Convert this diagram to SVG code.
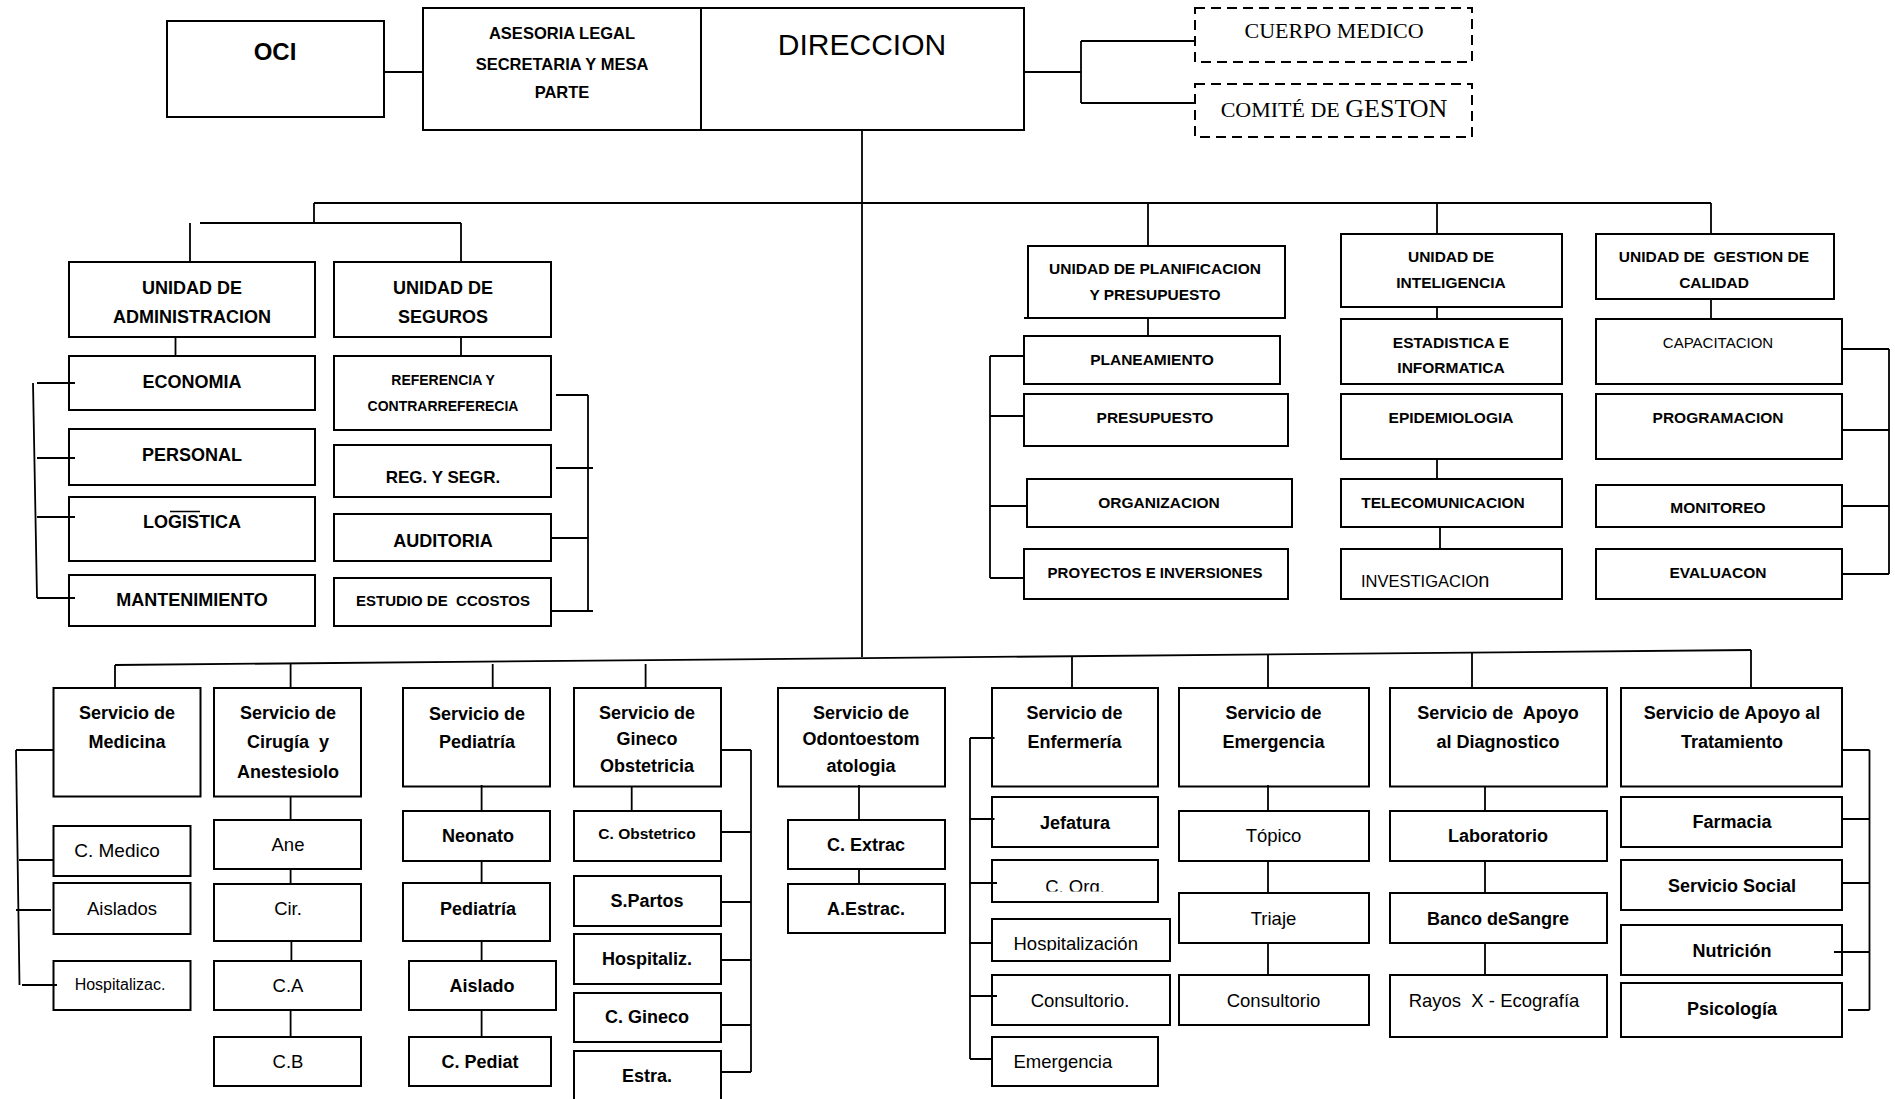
<svg xmlns="http://www.w3.org/2000/svg" width="1895" height="1099" viewBox="0 0 1895 1099">
<defs>
<style>
.box{fill:#fff;stroke:#000;stroke-width:2}
.dash{fill:#fff;stroke:#000;stroke-width:2;stroke-dasharray:10 6}
.ln{fill:none;stroke:#000;stroke-width:1.8}
text{font-family:"Liberation Sans",Arial,sans-serif;fill:#000;text-anchor:middle}
.b{font-weight:bold}
.pre{white-space:pre}
.sr{font-family:"Liberation Serif","Times New Roman",serif}
.u18{font-size:18px}
.u15{font-size:15.5px}
.n18{font-size:18.5px}
.st{text-anchor:start}
</style>
<clipPath id="clipOrg"><rect x="990" y="858" width="170" height="33.5"/></clipPath>
<clipPath id="clipHosp"><rect x="990" y="917" width="182" height="34"/></clipPath>
</defs>
<rect width="1895" height="1099" fill="#fff"/>

<!-- Top row -->
<g id="oci"><rect class="box" x="167" y="21" width="217" height="96"/><text class="b" x="275" y="60" font-size="24">OCI</text></g>
<g id="asesoria"><rect class="box" x="423" y="8" width="278" height="122"/>
<text class="b" x="562" y="39" font-size="16.5">ASESORIA LEGAL</text>
<text class="b" x="562" y="70" font-size="16.5">SECRETARIA Y MESA</text>
<text class="b" x="562" y="98" font-size="16.5">PARTE</text></g>
<g id="direccion"><rect class="box" x="701" y="8" width="323" height="122"/><text x="862" y="55" font-size="30">DIRECCION</text></g>
<g id="cuerpo-medico"><rect class="dash" x="1195" y="8" width="277" height="54"/><text class="sr" x="1334" y="38" font-size="22">CUERPO MEDICO</text></g>
<g id="comite-gestion"><rect class="dash" x="1195" y="84" width="277" height="53"/><text class="sr pre" x="1334" y="117" font-size="22">COMITÉ DE <tspan font-size="26">GESTON</tspan></text></g>

<!-- Administracion -->
<g id="u-admin"><rect class="box" x="69" y="262" width="246" height="75"/><text class="b u18" x="192" y="294">UNIDAD DE</text><text class="b u18" x="192" y="323">ADMINISTRACION</text></g>
<g id="economia"><rect class="box" x="69" y="356" width="246" height="54"/><text class="b u18" x="192" y="388">ECONOMIA</text></g>
<g id="personal"><rect class="box" x="69" y="429" width="246" height="56"/><text class="b u18" x="192" y="461">PERSONAL</text></g>
<g id="logistica"><rect class="box" x="69" y="497" width="246" height="64"/><text class="b u18" x="192" y="528">LOGISTICA</text><line x1="170" y1="511.5" x2="200" y2="511.5" stroke="#000" stroke-width="1.5"/></g>
<g id="mantenimiento"><rect class="box" x="69" y="575" width="246" height="51"/><text class="b u18" x="192" y="606">MANTENIMIENTO</text></g>

<!-- Seguros -->
<g id="u-seguros"><rect class="box" x="334" y="262" width="217" height="75"/><text class="b u18" x="443" y="294">UNIDAD DE</text><text class="b u18" x="443" y="323">SEGUROS</text></g>
<g id="referencia"><rect class="box" x="334" y="356" width="217" height="74"/><text class="b" x="443" y="385" font-size="14">REFERENCIA Y</text><text class="b" x="443" y="411" font-size="14">CONTRARREFERECIA</text></g>
<g id="reg-segr"><rect class="box" x="334" y="445" width="217" height="52"/><text class="b" x="443" y="483" font-size="17">REG. Y SEGR.</text></g>
<g id="auditoria"><rect class="box" x="334" y="514" width="217" height="47"/><text class="b u18" x="443" y="547">AUDITORIA</text></g>
<g id="estudio-costos"><rect class="box" x="334" y="578" width="217" height="48"/><text class="b pre" x="443" y="606" font-size="15">ESTUDIO DE  CCOSTOS</text></g>

<!-- Planificacion -->
<g id="u-planificacion"><rect class="box" x="1028" y="246" width="257" height="72"/><text class="b u15" x="1155" y="274">UNIDAD DE PLANIFICACION</text><text class="b u15" x="1155" y="300">Y PRESUPUESTO</text></g>
<g id="planeamiento"><rect class="box" x="1024" y="336" width="256" height="48"/><text class="b u15" x="1152" y="365">PLANEAMIENTO</text></g>
<g id="presupuesto"><rect class="box" x="1024" y="394" width="264" height="52"/><text class="b u15" x="1155" y="423">PRESUPUESTO</text></g>
<g id="organizacion"><rect class="box" x="1027" y="479" width="265" height="48"/><text class="b u15" x="1159" y="508">ORGANIZACION</text></g>
<g id="proyectos"><rect class="box" x="1024" y="549" width="264" height="50"/><text class="b" x="1155" y="578" font-size="15">PROYECTOS E INVERSIONES</text></g>

<!-- Inteligencia -->
<g id="u-inteligencia"><rect class="box" x="1341" y="234" width="221" height="73"/><text class="b u15" x="1451" y="262">UNIDAD DE</text><text class="b u15" x="1451" y="288">INTELIGENCIA</text></g>
<g id="estadistica"><rect class="box" x="1341" y="319" width="221" height="65"/><text class="b u15" x="1451" y="348">ESTADISTICA E</text><text class="b u15" x="1451" y="373">INFORMATICA</text></g>
<g id="epidemiologia"><rect class="box" x="1341" y="394" width="221" height="65"/><text class="b u15" x="1451" y="423">EPIDEMIOLOGIA</text></g>
<g id="telecomunicacion"><rect class="box" x="1341" y="479" width="221" height="48"/><text class="b u15" x="1443" y="508">TELECOMUNICACION</text></g>
<g id="investigacion"><rect class="box" x="1341" y="549" width="221" height="50"/><text class="st" x="1361" y="587" font-size="16.5">INVESTIGACIO<tspan font-size="20">n</tspan></text></g>

<!-- Calidad -->
<g id="u-calidad"><rect class="box" x="1596" y="234" width="238" height="65"/><text class="b u15 pre" x="1714" y="262">UNIDAD DE  GESTION DE</text><text class="b u15" x="1714" y="288">CALIDAD</text></g>
<g id="capacitacion"><rect class="box" x="1596" y="319" width="246" height="65"/><text x="1718" y="348" font-size="15">CAPACITACION</text></g>
<g id="programacion"><rect class="box" x="1596" y="394" width="246" height="65"/><text class="b u15" x="1718" y="423">PROGRAMACION</text></g>
<g id="monitoreo"><rect class="box" x="1596" y="485" width="246" height="42"/><text class="b u15" x="1718" y="513">MONITOREO</text></g>
<g id="evaluacon"><rect class="box" x="1596" y="549" width="246" height="50"/><text class="b u15" x="1718" y="578">EVALUACON</text></g>

<!-- Servicio de Medicina -->
<g id="s-medicina"><rect class="box" x="53.5" y="688" width="147" height="108.5"/><text class="b u18" x="127" y="719">Servicio de</text><text class="b u18" x="127" y="748">Medicina</text></g>
<g id="c-medico"><rect class="box" x="53.5" y="826" width="137" height="50"/><text x="117" y="857" font-size="19">C. Medico</text></g>
<g id="aislados"><rect class="box" x="53.5" y="883" width="137" height="51"/><text class="n18" x="122" y="915">Aislados</text></g>
<g id="hospitalizac"><rect class="box" x="53.5" y="961" width="137" height="49"/><text x="120" y="990" font-size="16">Hospitalizac.</text></g>

<!-- Cirugia -->
<g id="s-cirugia"><rect class="box" x="214" y="688" width="147" height="108.5"/><text class="b u18" x="288" y="719">Servicio de</text><text class="b u18 pre" x="288" y="748">Cirugía  y</text><text class="b u18" x="288" y="778">Anestesiolo</text></g>
<g id="ane"><rect class="box" x="214" y="820" width="147" height="49"/><text class="n18" x="288" y="851">Ane</text></g>
<g id="cir"><rect class="box" x="214" y="884" width="147" height="57"/><text class="n18" x="288" y="915">Cir.</text></g>
<g id="ca"><rect class="box" x="214" y="961" width="147" height="49"/><text class="n18" x="288" y="992">C.A</text></g>
<g id="cb"><rect class="box" x="214" y="1037" width="147" height="49"/><text class="n18" x="288" y="1068">C.B</text></g>

<!-- Pediatria -->
<g id="s-pediatria"><rect class="box" x="403" y="688" width="147" height="98.5"/><text class="b u18" x="477" y="720">Servicio de</text><text class="b u18" x="477" y="748">Pediatría</text></g>
<g id="neonato"><rect class="box" x="403" y="811" width="147" height="50"/><text class="b u18" x="478" y="842">Neonato</text></g>
<g id="pediatria"><rect class="box" x="403" y="883" width="147" height="58"/><text class="b u18" x="478" y="915">Pediatría</text></g>
<g id="aislado"><rect class="box" x="409" y="961" width="147" height="49"/><text class="b u18" x="482" y="992">Aislado</text></g>
<g id="c-pediat"><rect class="box" x="409" y="1037" width="142" height="49"/><text class="b u18" x="480" y="1068">C. Pediat</text></g>

<!-- Gineco -->
<g id="s-gineco"><rect class="box" x="574" y="688" width="147" height="98.5"/><text class="b u18" x="647" y="719">Servicio de</text><text class="b u18" x="647" y="745">Gineco</text><text class="b u18" x="647" y="772">Obstetricia</text></g>
<g id="c-obstetrico"><rect class="box" x="574" y="811" width="147" height="50"/><text class="b" x="647" y="839" font-size="15.5">C. Obstetrico</text></g>
<g id="s-partos"><rect class="box" x="574" y="876" width="147" height="50"/><text class="b u18" x="647" y="907">S.Partos</text></g>
<g id="hospitaliz"><rect class="box" x="574" y="934" width="147" height="50"/><text class="b u18" x="647" y="965">Hospitaliz.</text></g>
<g id="c-gineco"><rect class="box" x="574" y="993" width="147" height="49"/><text class="b u18" x="647" y="1023">C. Gineco</text></g>
<g id="estra"><rect class="box" x="574" y="1051" width="147" height="60"/><text class="b u18" x="647" y="1082">Estra.</text></g>

<!-- Odonto -->
<g id="s-odonto"><rect class="box" x="778" y="688" width="167" height="98.5"/><text class="b u18" x="861" y="719">Servicio de</text><text class="b u18" x="861" y="745">Odontoestom</text><text class="b u18" x="861" y="772">atologia</text></g>
<g id="c-extrac"><rect class="box" x="788" y="820" width="157" height="49"/><text class="b u18" x="866" y="851">C. Extrac</text></g>
<g id="a-estrac"><rect class="box" x="788" y="884" width="157" height="49"/><text class="b u18" x="866" y="915">A.Estrac.</text></g>

<!-- Enfermeria -->
<g id="s-enfermeria"><rect class="box" x="992" y="688" width="166" height="98.5"/><text class="b u18" x="1074.5" y="719">Servicio de</text><text class="b u18" x="1074.5" y="748">Enfermería</text></g>
<g id="jefatura"><rect class="box" x="992" y="797" width="166" height="50"/><text class="b u18" x="1075" y="829">Jefatura</text></g>
<g id="c-org"><rect class="box" x="992" y="860" width="166" height="42"/><text class="n18" x="1075" y="892.5" clip-path="url(#clipOrg)">C. Org.</text></g>
<g id="hospitalizacion"><rect class="box" x="992" y="919" width="178" height="42"/><text class="n18 st" x="1013.5" y="950" clip-path="url(#clipHosp)">Hospitalización</text></g>
<g id="consultorio-enf"><rect class="box" x="992" y="975" width="178" height="50"/><text class="n18" x="1080" y="1007">Consultorio.</text></g>
<g id="emergencia-enf"><rect class="box" x="992" y="1037" width="166" height="49"/><text class="n18 st" x="1013.5" y="1068">Emergencia</text></g>

<!-- Emergencia -->
<g id="s-emergencia"><rect class="box" x="1179" y="688" width="190" height="98.5"/><text class="b u18" x="1273.5" y="719">Servicio de</text><text class="b u18" x="1273.5" y="748">Emergencia</text></g>
<g id="topico"><rect class="box" x="1179" y="811" width="190" height="50"/><text class="n18" x="1273.5" y="842">Tópico</text></g>
<g id="triaje"><rect class="box" x="1179" y="893" width="190" height="50"/><text class="n18" x="1273.5" y="925">Triaje</text></g>
<g id="consultorio"><rect class="box" x="1179" y="975" width="190" height="50"/><text class="n18" x="1273.5" y="1007">Consultorio</text></g>

<!-- Apoyo al Diagnostico -->
<g id="s-diagnostico"><rect class="box" x="1390" y="688" width="217" height="98.5"/><text class="b u18 pre" x="1498" y="719">Servicio de  Apoyo</text><text class="b u18" x="1498" y="748">al Diagnostico</text></g>
<g id="laboratorio"><rect class="box" x="1390" y="811" width="217" height="50"/><text class="b u18" x="1498" y="842">Laboratorio</text></g>
<g id="banco-sangre"><rect class="box" x="1390" y="893" width="217" height="50"/><text class="b u18" x="1498" y="925">Banco deSangre</text></g>
<g id="rayos-x"><rect class="box" x="1390" y="975" width="217" height="62"/><text class="n18 pre" x="1494" y="1007">Rayos  X - Ecografía</text></g>

<!-- Apoyo al Tratamiento -->
<g id="s-tratamiento"><rect class="box" x="1621" y="688" width="221" height="98.5"/><text class="b u18" x="1732" y="719">Servicio de Apoyo al</text><text class="b u18" x="1732" y="748">Tratamiento</text></g>
<g id="farmacia"><rect class="box" x="1621" y="797" width="221" height="50"/><text class="b u18" x="1732" y="828">Farmacia</text></g>
<g id="servicio-social"><rect class="box" x="1621" y="860" width="221" height="50"/><text class="b u18" x="1732" y="892">Servicio Social</text></g>
<g id="nutricion"><rect class="box" x="1621" y="925" width="221" height="50"/><text class="b u18" x="1732" y="957">Nutrición</text></g>
<g id="psicologia"><rect class="box" x="1621" y="983" width="221" height="54"/><text class="b u18" x="1732" y="1015">Psicología</text></g>

<g id="connectors" class="ln">
<path d="M384,72 H423"/>
<path d="M1024,72 H1081 M1081,41 V103 M1081,41 H1195 M1081,103 H1195"/>
<path d="M862,130 V657"/>
<path d="M314,203 H1711"/>
<path d="M314,203 V223 M200,223 H461 M190,223 V262 M461,223 V262"/>
<path d="M1148,203 V246 M1437,203 V234 M1711,203 V234"/>
<path d="M175.5,337 V356 M461,337 V356"/>
<path d="M33,383 L37,598 M37,383 H75 M37,458 H75 M37,517 H75 M37,598 H75"/>
<path d="M588,395 V611 M556,395 H588 M556,468 H593 M551,538 H588 M551,611 H593"/>
<path d="M1024,318 H1028 M1148,318 V336"/>
<path d="M990,356 V578 M990,356 H1025 M990,416 H1024 M990,506 H1027 M990,578 H1024"/>
<path d="M1437,307 V319 M1437,459 V480 M1440,527 V549"/>
<path d="M1711,299 V319"/>
<path d="M1889,349 V574 M1842,349 H1889 M1842,430 H1889 M1842,506 H1889 M1842,574 H1889"/>
<path d="M115,665 L1751,650"/>
<path d="M115,665 V688 M290.6,663.4 V688 M492.7,664 V688 M645.6,664 V688 M1072,656.2 V688 M1268,654.4 V688 M1472,652.6 V688 M1751,650 V688"/>
<path d="M16,750 L19.5,985 M16,750 H53.5 M19,860 H53.5 M16,910 H51 M22,985 H57"/>
<path d="M290.6,797 V820 M290.6,869 V884 M291.4,941 V961 M290.6,1010 V1037"/>
<path d="M481.6,785 V811 M481.6,861 V883 M481.6,941 V961 M481.6,1010 V1037"/>
<path d="M631.7,787 V811"/>
<path d="M751,750 V1072 M721,750 H751 M721,832 H751 M721,902 H751 M721,960 H751 M721,1025 H751 M721,1072 H751"/>
<path d="M859,785 V820 M859,869 V884"/>
<path d="M970,738 V1059 M970,738 H994.5 M970,819 H994.5 M970,883 H997 M970,943 H992 M970,996 H997 M970,1059 H992"/>
<path d="M1268,785 V811 M1268,861 V893 M1268,943 V975"/>
<path d="M1485,787 V811 M1485,861 V893 M1485,943 V975"/>
<path d="M1869.5,750 V1010 M1842,750 H1869.5 M1842,819 H1869.5 M1842,883 H1869.5 M1834,952 H1869.5 M1848,1010 H1869.5"/>
</g>
</svg>
